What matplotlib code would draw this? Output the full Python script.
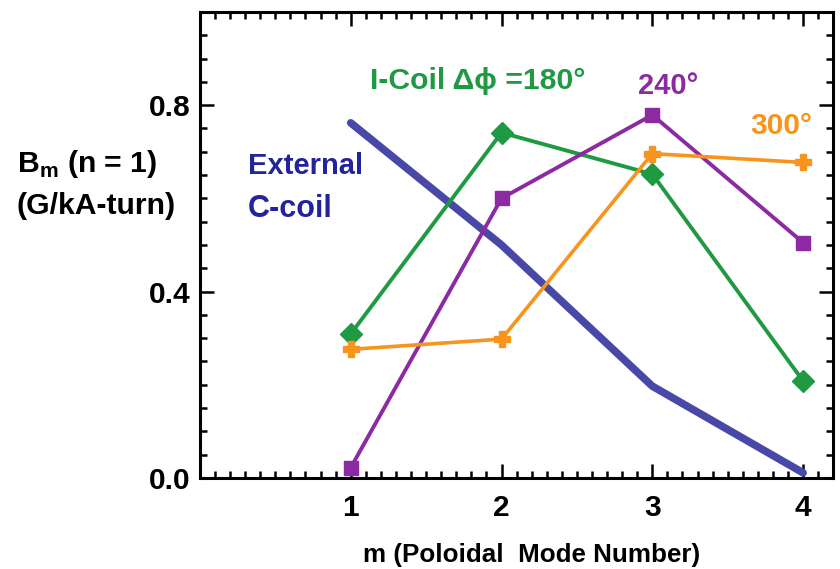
import matplotlib
matplotlib.use("Agg")
import matplotlib.pyplot as plt
from matplotlib.ticker import MultipleLocator, FixedLocator

plt.rcParams['font.family'] = ['Liberation Sans', 'DejaVu Sans']
plt.rcParams['font.weight'] = 'bold'
plt.rcParams['mathtext.fontset'] = 'custom'
plt.rcParams['mathtext.bf'] = 'Liberation Sans:bold'

m = [1, 2, 3, 4]
external_ccoil = [0.762, 0.50, 0.197, 0.011]
icoil_180 = [0.309, 0.741, 0.652, 0.208]
icoil_240 = [0.022, 0.600, 0.779, 0.505]
icoil_300 = [0.276, 0.298, 0.696, 0.677]

xticks = [1, 2, 3, 4]
yticks = [0.0, 0.4, 0.8]
ytick_labels = ["0.0", "0.4", "0.8"]

fig = plt.figure(figsize=(8.4, 5.69), dpi=100)
ax = fig.add_axes([0.238, 0.160, 0.754, 0.819])

blue = '#4848a8'
green = '#1f9a42'
purple = '#8c2aa2'
orange = '#f7941d'

ax.plot(m, external_ccoil, color=blue, lw=5.5, solid_capstyle='round', zorder=3)
ax.plot(m, icoil_180, color=green, lw=2.8, marker='D', ms=11, mfc=green, mec=green, zorder=4)
ax.plot(m, icoil_240, color=purple, lw=2.8, marker='s', ms=10, mfc=purple, mec=purple, zorder=4)
ax.plot(m, icoil_300, color=orange, lw=2.6, marker='P', ms=11, mfc=orange, mec=orange, zorder=4)

ax.set_xlim(0, 4.2)
ax.set_ylim(0, 1.0)
ax.xaxis.set_major_locator(FixedLocator(xticks))
ax.xaxis.set_minor_locator(MultipleLocator(0.1))
ax.yaxis.set_major_locator(FixedLocator(yticks))
ax.set_yticklabels(ytick_labels)
ax.yaxis.set_minor_locator(MultipleLocator(0.05))
ax.tick_params(which='both', direction='in', top=True, right=True, width=1.8)
ax.tick_params(which='major', length=10, labelsize=21.5)
ax.tick_params(axis='x', which='major', pad=11.5)
ax.tick_params(axis='y', which='major', pad=6.5)
ax.tick_params(which='minor', length=5)
for s in ax.spines.values():
    s.set_linewidth(2.2)

fig.text(531.5 / 840, 0.0128, "m (Poloidal  Mode Number)",
         fontsize=18.7, fontweight='bold', ha='center', va='baseline')

fig.text(0.020, 0.698, r"B$_{\mathbf{m}}$ (n = 1)", fontsize=21.7,
         fontweight='bold', ha='left', va='baseline')
fig.text(0.020, 0.624, "(G/kA-turn)", fontsize=21.7,
         fontweight='bold', ha='left', va='baseline')

ax.text(1.126, 0.835, "I-Coil \u0394\u03d5 =180\u00b0", color=green, fontsize=21.7,
        fontweight='bold', ha='left', va='baseline')
ax.text(2.907, 0.825, "240\u00b0", color=purple, fontsize=21, fontweight='bold',
        ha='left', va='baseline')
ax.text(3.65, 0.7375, "300\u00b0", color=orange, fontsize=21.5, fontweight='bold',
        ha='left', va='baseline')
ax.text(0.322, 0.652, "External", color='#23239c', fontsize=21,
        fontweight='bold', ha='left', va='baseline')
ax.text(0.315, 0.56, "C-coil", color='#23239c', fontsize=22,
        fontweight='bold', ha='left', va='baseline')

fig.savefig("out.png", dpi=100)
